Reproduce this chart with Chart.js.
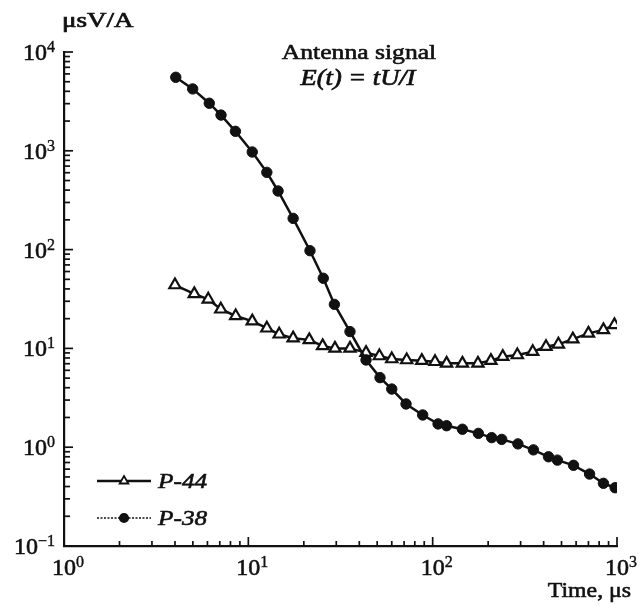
<!DOCTYPE html>
<html>
<head>
<meta charset="utf-8">
<script src="https://cdn.jsdelivr.net/npm/chart.js@4.4.1/dist/chart.umd.min.js"></script>
<style>
    body { margin: 0; background: #fff; }
    canvas { display: block; }
</style>
</head>
<body>
<canvas id="myChart" width="639" height="606"></canvas>
<script>
// values (time in microseconds, E in uS V/A)
const p44Time = [4.0, 5.09, 6.06, 7.09, 8.54, 10.5, 12.6, 14.7, 17.5, 21.4, 25.3, 29.5, 35.6, 43.5, 51.4, 60, 72.3, 87.3, 103, 119, 145, 176, 207, 240, 288, 349, 412, 481, 576, 700, 844, 968];
const p44Value = [43.8, 35.6, 31.4, 24.9, 21.3, 18.9, 16.0, 13.9, 12.7, 12.2, 10.6, 10.0, 10.0, 9.06, 8.38, 7.81, 7.63, 7.52, 7.33, 7.06, 7.06, 7.06, 7.52, 8.25, 8.57, 9.26, 10.4, 11.0, 12.4, 14.2, 15.4, 17.3];
const p38Time = [4.04, 4.99, 6.14, 7.11, 8.51, 10.5, 12.6, 14.5, 17.5, 21.6, 25.5, 29.3, 35.6, 43.5, 51.8, 60, 71.7, 88.3, 107, 119, 145, 177, 209, 237, 290, 352, 425, 475, 581, 710, 844, 977];
const p38Value = [5550, 4230, 3030, 2300, 1575, 973, 605, 392, 207, 97.5, 51.3, 27.9, 14.8, 7.64, 5.06, 3.88, 2.74, 2.12, 1.72, 1.65, 1.52, 1.38, 1.25, 1.20, 1.08, 0.94, 0.80, 0.74, 0.656, 0.535, 0.431, 0.389];

const seriesNames = ['P-44', 'P-38'];
const xTickExponents = [0, 1, 2, 3];
const yTickExponents = [-1, 0, 1, 2, 3, 4];
const titleLines = ['Antenna signal', 'E(t) = tU/I'];
const yUnit = 'μsV/A';
const xUnit = 'Time, μs';

const INK = '#111';
const SERIF = '"Liberation Serif", "Times New Roman", serif';

// text with a thin outline so it looks as heavy as the printed figure
function drawText(ctx, text, x, y, font, align, stretch, heavy) {
    ctx.save();
    ctx.font = font;
    ctx.fillStyle = INK;
    ctx.strokeStyle = INK;
    ctx.lineWidth = heavy || 0;
    ctx.textAlign = 'left';
    ctx.textBaseline = 'alphabetic';
    const w = ctx.measureText(text).width * stretch;
    let left = x;
    if (align === 'center') left = x - w / 2;
    if (align === 'right') left = x - w;
    ctx.translate(left, y);
    ctx.scale(stretch, 1);
    ctx.fillText(text, 0, 0);
    if (heavy) ctx.strokeText(text, 0, 0);
    ctx.restore();
}

// "10" with a raised exponent, y is the baseline of "10"
function powerLabel(ctx, exp, x, y, align) {
    const base = '24px ' + SERIF;
    const sup = '16px ' + SERIF;
    const supText = exp < 0 ? '\u2212' + (-exp) : String(exp);
    ctx.save();
    ctx.font = base;
    const wb = ctx.measureText('10').width;
    ctx.font = sup;
    const ws = ctx.measureText(supText).width;
    ctx.restore();
    const left = align === 'right' ? x - wb - ws : x - wb / 2;
    drawText(ctx, '10', left, y, base, 'left', 1, 0.6);
    drawText(ctx, supText, left + wb, y - 8, sup, 'left', 1, 0.4);
}

function marker(ctx, style, x, y, r) {
    ctx.save();
    ctx.strokeStyle = INK;
    ctx.lineWidth = 1.8;
    ctx.setLineDash([]);
    ctx.beginPath();
    if (style === 'triangle') {
        ctx.moveTo(x, y - r);
        ctx.lineTo(x + r * 0.866, y + r * 0.5);
        ctx.lineTo(x - r * 0.866, y + r * 0.5);
        ctx.closePath();
        ctx.fillStyle = '#fff';
    } else {
        ctx.arc(x, y, r, 0, Math.PI * 2);
        ctx.fillStyle = INK;
    }
    ctx.fill();
    ctx.stroke();
    ctx.restore();
}

const decor = {
    id: 'decor',
    afterDraw(chart) {
        const ctx = chart.ctx;
        const xs = chart.scales.x, ys = chart.scales.y;
        const area = chart.chartArea;

        // inward tick marks, 1..9 per decade
        ctx.save();
        ctx.strokeStyle = INK;
        ctx.lineWidth = 1.7;
        for (let e = xTickExponents[0]; e <= xTickExponents[xTickExponents.length - 1]; e++) {
            for (let k = 1; k <= 9; k++) {
                const v = k * Math.pow(10, e);
                if (v > xs.max * 1.0001) break;
                const px = xs.getPixelForValue(v);
                const len = k === 1 ? 9 : 5;
                ctx.beginPath();
                ctx.moveTo(px, area.bottom);
                ctx.lineTo(px, area.bottom - len);
                ctx.stroke();
            }
        }
        for (let e = yTickExponents[0]; e <= yTickExponents[yTickExponents.length - 1]; e++) {
            for (let k = 1; k <= 9; k++) {
                const v = k * Math.pow(10, e);
                if (v > ys.max * 1.0001) break;
                const py = ys.getPixelForValue(v);
                const len = k === 1 ? 9 : 6;
                ctx.beginPath();
                ctx.moveTo(area.left, py);
                ctx.lineTo(area.left + len, py);
                ctx.stroke();
            }
        }
        ctx.restore();

        // tick labels
        xTickExponents.forEach(e => {
            powerLabel(ctx, e, xs.getPixelForValue(Math.pow(10, e)), area.bottom + 29, 'center');
        });
        yTickExponents.forEach(e => {
            powerLabel(ctx, e, area.left - 9, ys.getPixelForValue(Math.pow(10, e)) + 8, 'right');
        });

        // axis units
        drawText(ctx, yUnit, 62, 27, '20px ' + SERIF, 'left', 1.35, 0.7);
        drawText(ctx, xUnit, 631, 597, '22px ' + SERIF, 'right', 1.08, 0.6);

        // title
        drawText(ctx, titleLines[0], 359, 59, '21px ' + SERIF, 'center', 1.22, 0.6);
        drawText(ctx, titleLines[1], 358, 85, 'italic 23px ' + SERIF, 'center', 1.15, 0.7);

        // legend
        const rows = [
            { name: seriesNames[0], style: 'triangle', y: 481, dash: [], width: 2.4, r: 5 },
            { name: seriesNames[1], style: 'circle', y: 518, dash: [2, 1.5], width: 1.6, r: 4.2 }
        ];
        rows.forEach(row => {
            ctx.save();
            ctx.strokeStyle = INK;
            ctx.lineWidth = row.width;
            ctx.setLineDash(row.dash);
            ctx.beginPath();
            ctx.moveTo(97, row.y);
            ctx.lineTo(151, row.y);
            ctx.stroke();
            ctx.restore();
            marker(ctx, row.style, 124, row.y, row.r);
            drawText(ctx, row.name, 158, row.y + 7, 'italic 22px ' + SERIF, 'left', 1.15, 0.6);
        });
    }
};

new Chart(document.getElementById('myChart'), {
    type: 'scatter',
    data: {
        datasets: [
            {
                label: seriesNames[0],
                data: p44Time.map((t, i) => ({ x: t, y: p44Value[i] })),
                showLine: true,
                borderColor: INK,
                borderWidth: 2.5,
                pointStyle: 'triangle',
                pointRadius: 6.5,
                pointBackgroundColor: '#fff',
                pointBorderColor: INK,
                pointBorderWidth: 2.2,
                order: 1,
            },
            {
                label: seriesNames[1],
                data: p38Time.map((t, i) => ({ x: t, y: p38Value[i] })),
                showLine: true,
                borderColor: INK,
                borderWidth: 2.5,
                pointStyle: 'circle',
                pointRadius: 5.2,
                pointBackgroundColor: INK,
                pointBorderColor: INK,
                pointBorderWidth: 1,
                order: 0,
            }
        ]
    },
    options: {
        responsive: false,
        animation: false,
        layout: { padding: { left: 64, right: 22, top: 52, bottom: 60 } },
        scales: {
            x: {
                type: 'logarithmic',
                min: 1,
                max: 1000,
                grid: { display: false, drawTicks: false },
                ticks: { display: false },
                border: { display: true, color: INK, width: 2.2 },
            },
            y: {
                type: 'logarithmic',
                min: 0.1,
                max: 10000,
                grid: { display: false, drawTicks: false },
                ticks: { display: false },
                border: { display: true, color: INK, width: 2.2 },
            }
        },
        plugins: {
            legend: { display: false },
            tooltip: { enabled: false }
        }
    },
    plugins: [decor]
});
</script>
</body>
</html>
